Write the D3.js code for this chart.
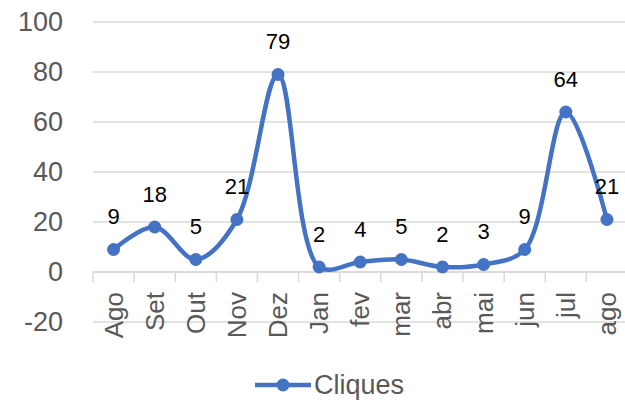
<!DOCTYPE html>
<html>
<head>
<meta charset="utf-8">
<script src="https://d3js.org/d3.v7.min.js"></script>
<style>
  body { margin: 0; background: #fff; }
  svg { display: block; font-family: "Liberation Sans", Arial, sans-serif; }
</style>
</head>
<body>
<svg id="chart" width="625" height="401"></svg>
<script>
// chart data
var categories = ["Ago", "Set", "Out", "Nov", "Dez", "Jan", "fev", "mar", "abr", "mai", "jun", "jul", "ago"];
var cliques = [9, 18, 5, 21, 79, 2, 4, 5, 2, 3, 9, 64, 21];
var yTicks = [-20, 0, 20, 40, 60, 80, 100];
var seriesName = "Cliques";

var svg = d3.select("#chart");
var blue = "#4472C4", gray = "#595959", grid = "#d9d9d9";

var x = d3.scaleBand().domain(categories).range([93, 627.5]);
var y = d3.scaleLinear().domain([-20, 100]).range([322, 22]);

// gridlines
svg.append("g").selectAll("line")
  .data(yTicks)
  .join("line")
  .attr("x1", 93).attr("x2", 625)
  .attr("y1", d => y(d)).attr("y2", d => y(d))
  .attr("stroke", grid).attr("stroke-width", 1.5);

// y labels
svg.append("g").selectAll("text")
  .data(yTicks)
  .join("text")
  .attr("x", 63).attr("y", d => y(d))
  .attr("text-anchor", "end")
  .attr("dominant-baseline", "central")
  .attr("fill", gray)
  .attr("font-size", 27)
  .text(d => d);

// category axis at zero with ticks between categories
var axisG = svg.append("g");
axisG.append("line")
  .attr("x1", 93).attr("x2", 625)
  .attr("y1", y(0)).attr("y2", y(0))
  .attr("stroke", grid).attr("stroke-width", 1.5);
axisG.selectAll("line.tick")
  .data(categories)
  .join("line")
  .attr("class", "tick")
  .attr("x1", d => x(d)).attr("x2", d => x(d))
  .attr("y1", y(0)).attr("y2", y(0) + 10)
  .attr("stroke", grid).attr("stroke-width", 1.5);
axisG.selectAll("text")
  .data(categories)
  .join("text")
  .attr("transform", d => "translate(" + (x(d) + x.bandwidth() / 2) + "," + (y(0) + 20) + ") rotate(-90)")
  .attr("text-anchor", "end")
  .attr("dominant-baseline", "central")
  .attr("fill", gray)
  .attr("font-size", 26)
  .text(d => d);

// smoothed line (centripetal Catmull-Rom, close to Excel's smoothing)
var pts = categories.map((c, i) => ({ c: c, v: cliques[i] }));
var line = d3.line()
  .x(d => x(d.c) + x.bandwidth() / 2)
  .y(d => y(d.v))
  .curve(d3.curveCatmullRom.alpha(0.5));

svg.append("path")
  .datum(pts)
  .attr("d", line)
  .attr("fill", "none")
  .attr("stroke", blue)
  .attr("stroke-width", 4.5)
  .attr("stroke-linejoin", "round");

svg.append("g").selectAll("circle")
  .data(pts)
  .join("circle")
  .attr("cx", d => x(d.c) + x.bandwidth() / 2)
  .attr("cy", d => y(d.v))
  .attr("r", 6.5)
  .attr("fill", blue);

// data labels
svg.append("g").selectAll("text")
  .data(pts)
  .join("text")
  .attr("x", d => x(d.c) + x.bandwidth() / 2)
  .attr("y", d => y(d.v) - 33)
  .attr("text-anchor", "middle")
  .attr("dominant-baseline", "central")
  .attr("fill", "#000")
  .attr("font-size", 22)
  .text(d => d.v);

// legend
var lg = svg.append("g");
lg.append("line")
  .attr("x1", 255).attr("x2", 311)
  .attr("y1", 385).attr("y2", 385)
  .attr("stroke", blue).attr("stroke-width", 4.5);
lg.append("circle")
  .attr("cx", 283).attr("cy", 385).attr("r", 6.5)
  .attr("fill", blue);
lg.append("text")
  .attr("x", 314).attr("y", 385)
  .attr("dominant-baseline", "central")
  .attr("fill", gray)
  .attr("font-size", 27)
  .text(seriesName);
</script>
</body>
</html>
